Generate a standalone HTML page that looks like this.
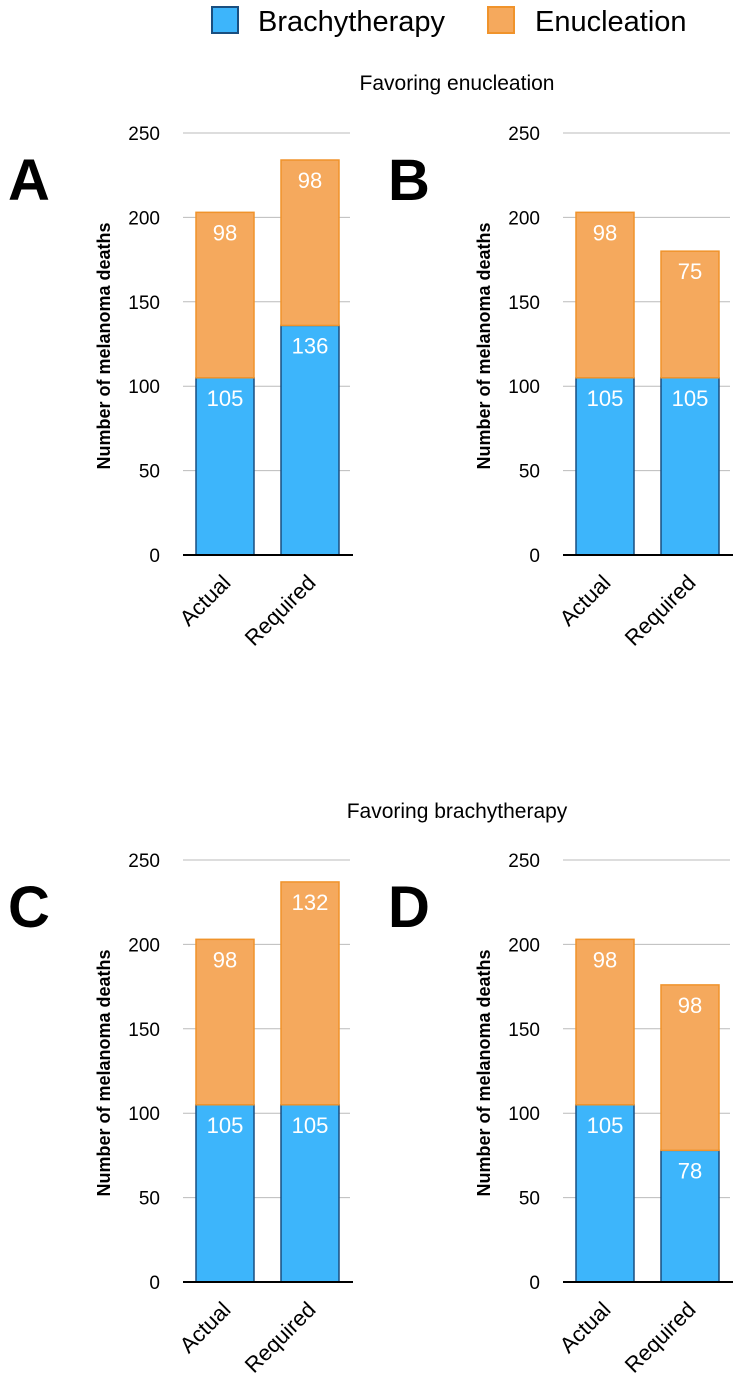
<!DOCTYPE html>
<html><head><meta charset="utf-8"><style>
body{margin:0;background:#fff;width:740px;height:1390px;overflow:hidden}
svg{font-family:"Liberation Sans",Arial,sans-serif}
</style></head><body>
<svg id="c" width="740" height="1390" viewBox="0 0 740 1390">
<g>
<rect x="212" y="7" width="26" height="26" fill="#3db5fb" stroke="#1a4f80" stroke-width="2"/>
<text x="258" y="31" font-size="29">Brachytherapy</text>
<rect x="488" y="7" width="26" height="26" fill="#f5a95d" stroke="#f0932b" stroke-width="2"/>
<text x="535" y="31" font-size="29">Enucleation</text>
</g>
<text x="457" y="90" font-size="21" text-anchor="middle">Favoring enucleation</text>
<text x="457" y="818" font-size="21" text-anchor="middle">Favoring brachytherapy</text>
</svg>
<script>
const panels = ["A","B","C","D"];
const categories = ["Actual","Required"];
const brachyValues = [[105,136],[105,105],[105,105],[105,78]];
const enucValues = [[98,98],[98,75],[98,132],[98,98]];
const yTicks = [0,50,100,150,200,250];
const NS="http://www.w3.org/2000/svg";
const svg=document.getElementById('c');
function mk(tag,attrs,parent){const e=document.createElementNS(NS,tag);for(const k in attrs)e.setAttribute(k,attrs[k]);(parent||svg).appendChild(e);return e;}
const offs=[[0,0],[380,0],[0,727],[380,727]];
panels.forEach((p,i)=>{
  const ox=offs[i][0], oy=offs[i][1];
  const g=mk('g',{});
  
  
  const y=v=>oy+555-v*422/250;
  const bx=[ox+196, ox+281], bw=58;
  const L=mk('text',{x:ox+8,y:oy+200,'font-size':58,'font-weight':'bold'},g);L.textContent=p;
  
  
  const t=mk('text',{x:0,y:0,'font-size':18,'font-weight':'bold','text-anchor':'middle',transform:`translate(${ox+110},${oy+346}) rotate(-90)`},g);t.textContent='Number of melanoma deaths';
  
  
  yTicks.forEach(v=>{
    if(v>0){const l=mk('line',{x1:ox+183,x2:ox+350,y1:y(v),y2:y(v),stroke:'#bbb','stroke-width':1},g);
    
    }
    const tl=mk('text',{x:ox+160,y:y(v)+7,'font-size':19,'text-anchor':'end'},g);tl.textContent=v;
    
    
  });
  categories.forEach((c,j)=>{
    const b=brachyValues[i][j], e=enucValues[i][j];
    const rb=mk('rect',{x:bx[j],y:y(b),width:bw,height:y(0)-y(b),fill:'#3db5fb',stroke:'#1a4f80','stroke-width':1.5},g);
    
    
    const re=mk('rect',{x:bx[j],y:y(b+e),width:bw,height:y(b)-y(b+e),fill:'#f5a95d',stroke:'#f0932b','stroke-width':1.5},g);
    
    
    const lb=mk('text',{x:bx[j]+bw/2,y:y(b)+28,'font-size':22,fill:'#fff','text-anchor':'middle'},g);lb.textContent=b;
    
    
    const le=mk('text',{x:bx[j]+bw/2,y:y(b+e)+28,'font-size':22,fill:'#fff','text-anchor':'middle'},g);le.textContent=e;
    
    
    const xl=mk('text',{x:0,y:0,'font-size':22,'text-anchor':'end',transform:`translate(${bx[j]+bw/2+7},${oy+584}) rotate(-45)`},g);xl.textContent=c;
    
    
  });
  const ax=mk('line',{x1:ox+183,x2:ox+353,y1:y(0),y2:y(0),stroke:'#000','stroke-width':2},g);
  
  
});
</script>
</body></html>
